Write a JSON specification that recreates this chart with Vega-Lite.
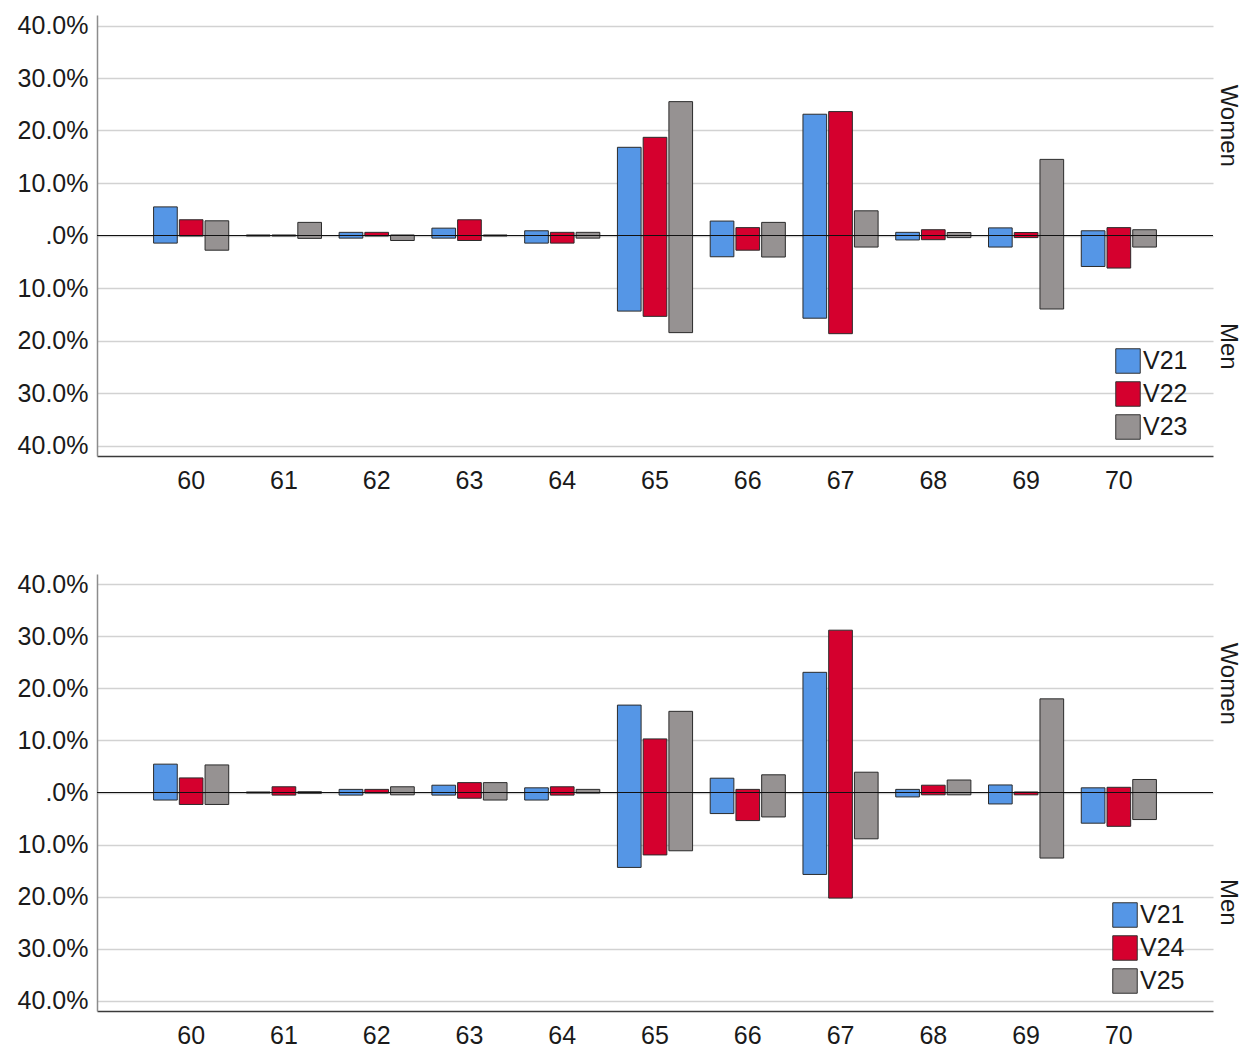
{
  "$schema": "https://vega.github.io/schema/vega-lite/v6.json",
  "background": "white",
  "padding": {"left": 17, "top": 13, "right": 0, "bottom": 0},
  "spacing": 79,
  "config": {
    "font": "Liberation Sans",
    "view": {"stroke": null},
    "axis": {"labelFont": "Liberation Sans", "labelColor": "#1a1a1a", "title": null, "ticks": false},
    "legend": {
      "orient": "none",
      "title": null,
      "symbolType": "square",
      "symbolSize": 600,
      "symbolStrokeColor": "#333333",
      "symbolStrokeWidth": 1,
      "symbolOpacity": 1,
      "labelFont": "Liberation Sans",
      "labelFontSize": 25,
      "labelColor": "#1a1a1a",
      "labelOffset": 2,
      "rowPadding": 3,
      "padding": 0
    }
  },
  "datasets": {
    "panelA": [
      {"age": "60", "series": "V21", "women": 5.45, "men": -1.45},
      {"age": "60", "series": "V22", "women": 3.0, "men": -0.1},
      {"age": "60", "series": "V23", "women": 2.8, "men": -2.8},
      {"age": "61", "series": "V21", "women": 0.1, "men": -0.1},
      {"age": "61", "series": "V22", "women": 0.1, "men": -0.1},
      {"age": "61", "series": "V23", "women": 2.5, "men": -0.55},
      {"age": "62", "series": "V21", "women": 0.6, "men": -0.5},
      {"age": "62", "series": "V22", "women": 0.6, "men": -0.1},
      {"age": "62", "series": "V23", "women": 0.1, "men": -0.95},
      {"age": "63", "series": "V21", "women": 1.4, "men": -0.5},
      {"age": "63", "series": "V22", "women": 3.0, "men": -0.95},
      {"age": "63", "series": "V23", "women": 0.1, "men": -0.1},
      {"age": "64", "series": "V21", "women": 0.9, "men": -1.45},
      {"age": "64", "series": "V22", "women": 0.6, "men": -1.45},
      {"age": "64", "series": "V23", "women": 0.6, "men": -0.5},
      {"age": "65", "series": "V21", "women": 16.8, "men": -14.4},
      {"age": "65", "series": "V22", "women": 18.7, "men": -15.4},
      {"age": "65", "series": "V23", "women": 25.5, "men": -18.5},
      {"age": "66", "series": "V21", "women": 2.75, "men": -4.05},
      {"age": "66", "series": "V22", "women": 1.5, "men": -2.8},
      {"age": "66", "series": "V23", "women": 2.5, "men": -4.1},
      {"age": "67", "series": "V21", "women": 23.1, "men": -15.75},
      {"age": "67", "series": "V22", "women": 23.6, "men": -18.7},
      {"age": "67", "series": "V23", "women": 4.7, "men": -2.2},
      {"age": "68", "series": "V21", "women": 0.6, "men": -0.85},
      {"age": "68", "series": "V22", "women": 1.1, "men": -0.8},
      {"age": "68", "series": "V23", "women": 0.57, "men": -0.4},
      {"age": "69", "series": "V21", "women": 1.45, "men": -2.2},
      {"age": "69", "series": "V22", "women": 0.57, "men": -0.4},
      {"age": "69", "series": "V23", "women": 14.5, "men": -14.0},
      {"age": "70", "series": "V21", "women": 0.9, "men": -5.9},
      {"age": "70", "series": "V22", "women": 1.5, "men": -6.2},
      {"age": "70", "series": "V23", "women": 1.1, "men": -2.2}
    ],
    "panelB": [
      {"age": "60", "series": "V21", "women": 5.45, "men": -1.45},
      {"age": "60", "series": "V24", "women": 2.8, "men": -2.3},
      {"age": "60", "series": "V25", "women": 5.3, "men": -2.3},
      {"age": "61", "series": "V21", "women": 0.1, "men": -0.1},
      {"age": "61", "series": "V24", "women": 1.1, "men": -0.5},
      {"age": "61", "series": "V25", "women": 0.15, "men": -0.15},
      {"age": "62", "series": "V21", "women": 0.6, "men": -0.5},
      {"age": "62", "series": "V24", "women": 0.6, "men": -0.1},
      {"age": "62", "series": "V25", "women": 1.1, "men": -0.45},
      {"age": "63", "series": "V21", "women": 1.4, "men": -0.5},
      {"age": "63", "series": "V24", "women": 1.9, "men": -1.1},
      {"age": "63", "series": "V25", "women": 1.9, "men": -1.45},
      {"age": "64", "series": "V21", "women": 0.9, "men": -1.45},
      {"age": "64", "series": "V24", "women": 1.1, "men": -0.5},
      {"age": "64", "series": "V25", "women": 0.6, "men": -0.1},
      {"age": "65", "series": "V21", "women": 16.8, "men": -14.4},
      {"age": "65", "series": "V24", "women": 10.3, "men": -12.0},
      {"age": "65", "series": "V25", "women": 15.6, "men": -11.2},
      {"age": "66", "series": "V21", "women": 2.75, "men": -4.05},
      {"age": "66", "series": "V24", "women": 0.6, "men": -5.4},
      {"age": "66", "series": "V25", "women": 3.4, "men": -4.7},
      {"age": "67", "series": "V21", "women": 23.1, "men": -15.75},
      {"age": "67", "series": "V24", "women": 31.2, "men": -20.3},
      {"age": "67", "series": "V25", "women": 3.9, "men": -8.9},
      {"age": "68", "series": "V21", "women": 0.6, "men": -0.85},
      {"age": "68", "series": "V24", "women": 1.4, "men": -0.45},
      {"age": "68", "series": "V25", "women": 2.4, "men": -0.45},
      {"age": "69", "series": "V21", "women": 1.45, "men": -2.2},
      {"age": "69", "series": "V24", "women": 0.1, "men": -0.45},
      {"age": "69", "series": "V25", "women": 18.0, "men": -12.6},
      {"age": "70", "series": "V21", "women": 0.9, "men": -5.9},
      {"age": "70", "series": "V24", "women": 1.0, "men": -6.5},
      {"age": "70", "series": "V25", "women": 2.5, "men": -5.2}
    ],
    "baseline": [{"level": 0}]
  },
  "resolve": {"scale": {"color": "independent", "xOffset": "independent"}},
  "vconcat": [
    {
      "width": 1116,
      "height": 441,
      "resolve": {"axis": {"y": "independent"}},
      "layer": [
        {
          "data": {"name": "panelA"},
          "mark": {"type": "bar", "stroke": "#2b2b2b", "strokeWidth": 1, "opacity": 1},
          "encoding": {
            "x": {
              "field": "age", "type": "ordinal",
              "scale": {"paddingInner": 0.19, "paddingOuter": 0.61},
              "axis": {"labelAngle": 0, "labelFontSize": 25, "labelPadding": 12, "domainColor": "#3a3a3a", "domainWidth": 1.5, "grid": false}
            },
            "xOffset": {"field": "series", "type": "nominal", "scale": {"paddingInner": 0.08}},
            "y": {
              "field": "women", "type": "quantitative",
              "scale": {"domain": [-42, 42], "nice": false, "zero": false},
              "axis": {
                "orient": "left",
                "values": [-40, -30, -20, -10, 0, 10, 20, 30, 40],
                "labelExpr": "datum.value == 0 ? '.0%' : format(abs(datum.value), '.1f') + '%'",
                "labelFontSize": 25, "labelPadding": 9,
                "grid": true, "gridColor": "#d2d2d2", "gridWidth": 1.6,
                "domainColor": "#8c8c8c", "domainWidth": 1.5
              }
            },
            "y2": {"field": "men"},
            "color": {
              "field": "series", "type": "nominal",
              "scale": {"domain": ["V21", "V22", "V23"], "range": ["#5596e6", "#d5002e", "#969292"]},
              "legend": {"legendX": 1018, "legendY": 333}
            }
          }
        },
        {
          "data": {"name": "baseline"},
          "mark": {"type": "rule", "color": "#111111", "strokeWidth": 1.2},
          "encoding": {
            "y": {
              "field": "level", "type": "quantitative",
              "axis": {
                "orient": "right",
                "values": [21, -21],
                "labelExpr": "datum.value > 0 ? 'Women' : 'Men'",
                "labelAngle": 90, "labelAlign": "center", "labelBaseline": "bottom",
                "labelFontSize": 24, "labelPadding": 2,
                "domain": false, "grid": false
              }
            }
          }
        }
      ]
    },
    {
      "width": 1116,
      "height": 437,
      "resolve": {"axis": {"y": "independent"}},
      "layer": [
        {
          "data": {"name": "panelB"},
          "mark": {"type": "bar", "stroke": "#2b2b2b", "strokeWidth": 1, "opacity": 1},
          "encoding": {
            "x": {
              "field": "age", "type": "ordinal",
              "scale": {"paddingInner": 0.19, "paddingOuter": 0.61},
              "axis": {"labelAngle": 0, "labelFontSize": 25, "labelPadding": 12, "domainColor": "#3a3a3a", "domainWidth": 1.5, "grid": false}
            },
            "xOffset": {"field": "series", "type": "nominal", "scale": {"paddingInner": 0.08}},
            "y": {
              "field": "women", "type": "quantitative",
              "scale": {"domain": [-42, 42], "nice": false, "zero": false},
              "axis": {
                "orient": "left",
                "values": [-40, -30, -20, -10, 0, 10, 20, 30, 40],
                "labelExpr": "datum.value == 0 ? '.0%' : format(abs(datum.value), '.1f') + '%'",
                "labelFontSize": 25, "labelPadding": 9,
                "grid": true, "gridColor": "#d2d2d2", "gridWidth": 1.6,
                "domainColor": "#8c8c8c", "domainWidth": 1.5
              }
            },
            "y2": {"field": "men"},
            "color": {
              "field": "series", "type": "nominal",
              "scale": {"domain": ["V21", "V24", "V25"], "range": ["#5596e6", "#d5002e", "#969292"]},
              "legend": {"legendX": 1015, "legendY": 328}
            }
          }
        },
        {
          "data": {"name": "baseline"},
          "mark": {"type": "rule", "color": "#111111", "strokeWidth": 1.2},
          "encoding": {
            "y": {
              "field": "level", "type": "quantitative",
              "axis": {
                "orient": "right",
                "values": [21, -21],
                "labelExpr": "datum.value > 0 ? 'Women' : 'Men'",
                "labelAngle": 90, "labelAlign": "center", "labelBaseline": "bottom",
                "labelFontSize": 24, "labelPadding": 2,
                "domain": false, "grid": false
              }
            }
          }
        }
      ]
    }
  ]
}
